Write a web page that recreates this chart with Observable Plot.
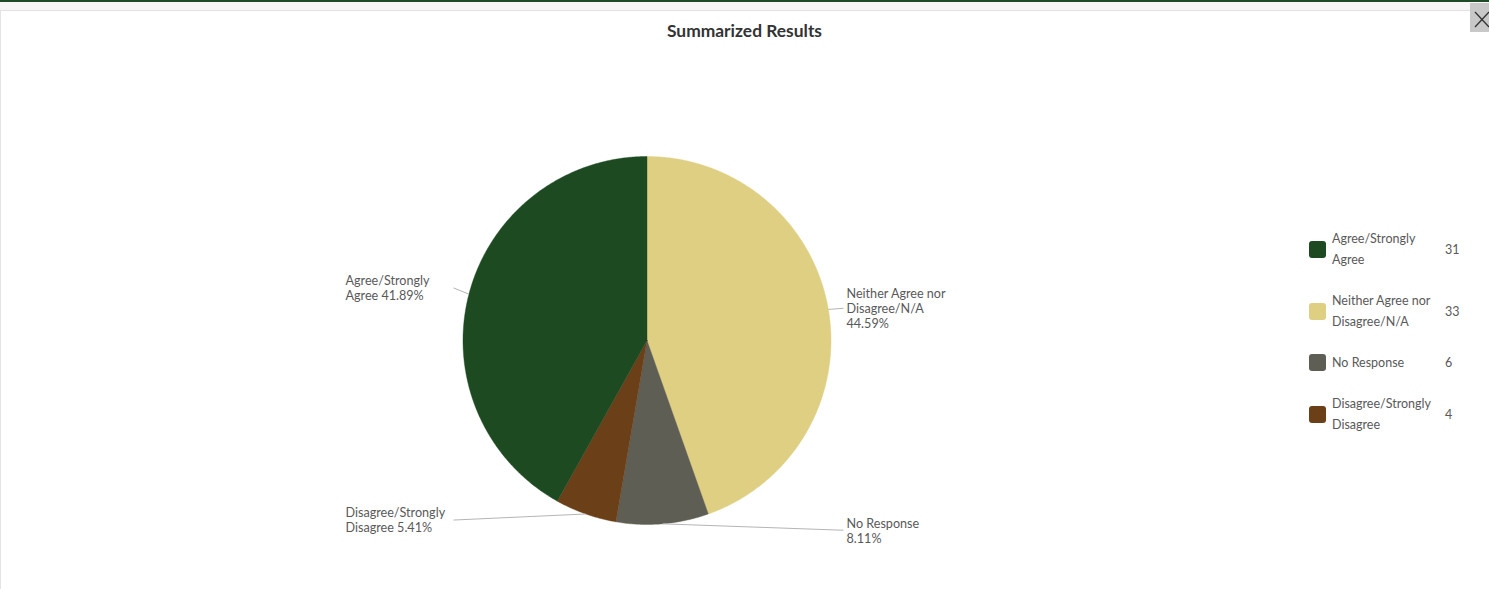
<!DOCTYPE html>
<html>
<head>
<meta charset="utf-8">
<script src="https://cdn.jsdelivr.net/npm/d3@7"></script>
<script src="https://cdn.jsdelivr.net/npm/@observablehq/plot@0.6"></script>
<style>
  html, body { margin: 0; padding: 0; }
  body { width: 1489px; height: 589px; overflow: hidden; background: #fff; position: relative; font-family: Lato, "Open Sans", sans-serif; }
  .topbar { position: absolute; left: 0; top: 0; width: 1489px; height: 2px; background: #1f4a25; }
  .strip { position: absolute; left: 0; top: 2px; width: 1489px; height: 8px; background: #f7f5f5; border-bottom: 1px solid #e2e2e2; }
  .leftb { position: absolute; left: 0; top: 11px; width: 1px; height: 578px; background: #e4e4e4; }
  #title { position: absolute; top: 21px; left: 0; width: 1489px; text-align: center; font-weight: 700; font-size: 17.4px; line-height: 20px; color: #333; }
  #chart { position: absolute; left: 0; top: 45px; }
  #legend { position: absolute; left: 1309px; top: 228px; display: flex; flex-direction: column; gap: 20px; z-index: 2; }
  .item { display: flex; align-items: center; font-size: 12.5px; line-height: 21px; color: #595959; }
  .sw { width: 17px; height: 17px; border-radius: 3px; margin-right: 6px; flex: none; }
  .lab { width: 113px; flex: none; }
  .val { flex: none; }
  .close { position: absolute; left: 1470px; top: 3px; width: 19px; height: 29px; background: #c8c8c8; z-index: 2; }
</style>
</head>
<body>
<div class="topbar"></div>
<div class="strip"></div>
<div class="leftb"></div>
<div class="close"><svg width="19" height="29"><line x1="5" y1="9" x2="19" y2="24" stroke="#333" stroke-width="1.3"/><line x1="19" y1="9" x2="5" y2="24" stroke="#333" stroke-width="1.3"/></svg></div>
<div id="title">Summarized Results</div>
<div id="chart"></div>
<div id="legend"></div>
<script>
// ---- data ----
const categories = ["Agree/Strongly Agree", "Neither Agree nor Disagree/N/A", "No Response", "Disagree/Strongly Disagree"];
const counts = [31, 33, 6, 4];
const colors = ["#1d4a20", "#dfcf82", "#5f5e54", "#6b3f17"];
// clockwise order from 12 o'clock
const pieOrder = ["Neither Agree nor Disagree/N/A", "No Response", "Disagree/Strongly Disagree", "Agree/Strongly Agree"];

// ---- layout constants (pixels) ----
const W = 1260, H = 544, R = 184, CX = 646.5, CY = 295;
const FS = 12.6;

const ctx = document.createElement("canvas").getContext("2d");
ctx.font = FS + "px Lato";
function wrap(str, maxW) {
  const words = str.split(" ");
  const lines = [];
  let cur = "";
  for (const w of words) {
    const t = cur ? cur + " " + w : w;
    if (cur && ctx.measureText(t).width > maxW) { lines.push(cur); cur = w; }
    else cur = t;
  }
  if (cur) lines.push(cur);
  return lines;
}

const total = d3.sum(counts);
const countOf = new Map(categories.map((c, i) => [c, counts[i]]));

// slices
let acc = 0;
const slices = pieOrder.map(c => {
  const v = countOf.get(c);
  const a0 = acc / total * 2 * Math.PI;
  acc += v;
  const a1 = acc / total * 2 * Math.PI;
  return {cat: c, value: v, a0, a1, mid: (a0 + a1) / 2, pct: (v / total * 100).toFixed(2) + "%"};
});

// polygon points for each slice (unit radius, y up)
const pts = [];
for (const s of slices) {
  pts.push({cat: s.cat, x: 0, y: 0});
  const n = Math.max(2, Math.ceil((s.a1 - s.a0) / (Math.PI / 360)));
  for (let k = 0; k <= n; k++) {
    const a = s.a0 + (s.a1 - s.a0) * k / n;
    pts.push({cat: s.cat, x: Math.sin(a), y: Math.cos(a)});
  }
  pts.push({cat: s.cat, x: 0, y: 0});
}

// labels
const leftTextX = (345 - CX) / R, rightTextX = (846 - CX) / R;
const leftConnX = (453 - CX) / R, rightConnX = (843 - CX) / R;
const labels = slices.map(s => {
  const ex = Math.sin(s.mid), ey = Math.cos(s.mid);
  const left = ex < 0;
  return {
    cat: s.cat,
    ex, ey,
    ly: ey * 1.035 + (left && ey > 0 ? 0.025 : 0),
    tx: left ? leftTextX : rightTextX,
    cx: left ? leftConnX : rightConnX,
    text: wrap(s.cat + " " + s.pct, 104).join("\n")
  };
});

const chart = Plot.plot({
  width: W,
  height: H,
  margin: 0,
  x: {domain: [-CX / R, (W - CX) / R], axis: null},
  y: {domain: [-(H - CY) / R, CY / R], axis: null},
  color: {domain: categories, range: colors},
  style: {fontFamily: "Lato, 'Open Sans', sans-serif", background: "transparent"},
  marks: [
    Plot.line(pts, {x: "x", y: "y", z: "cat", fill: "cat", stroke: "cat", strokeWidth: 0.4, curve: "linear"}),
    Plot.link(labels, {x1: "ex", y1: "ey", x2: "cx", y2: "ly", stroke: "#b5b5b5", strokeWidth: 1}),
    Plot.text(labels, {x: "tx", y: "ly", text: "text", textAnchor: "start", fontSize: FS, lineHeight: 1.2, fill: "#595959"})
  ]
});
document.getElementById("chart").appendChild(chart);

// legend
const legend = document.getElementById("legend");
categories.forEach((c, i) => {
  const item = document.createElement("div");
  item.className = "item";
  const sw = document.createElement("div");
  sw.className = "sw";
  sw.style.background = colors[i];
  const lab = document.createElement("div");
  lab.className = "lab";
  lab.innerHTML = wrap(c, 104).join("<br>");
  const val = document.createElement("div");
  val.className = "val";
  val.textContent = counts[i];
  item.append(sw, lab, val);
  legend.appendChild(item);
});
</script>
</body>
</html>
